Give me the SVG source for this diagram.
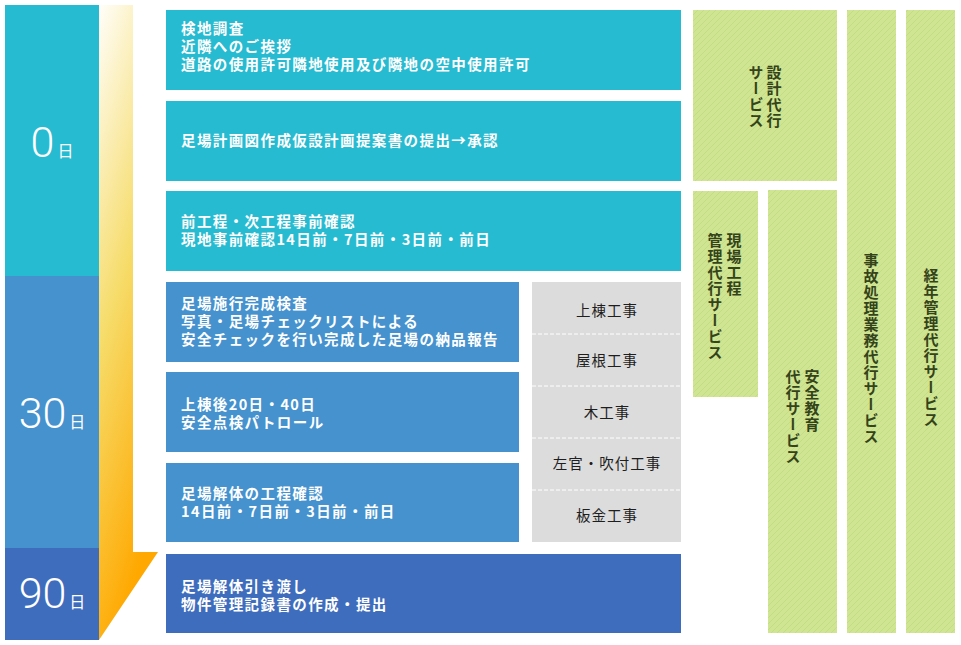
<svg xmlns="http://www.w3.org/2000/svg" width="961" height="645" viewBox="0 0 961 645">
<style>
.t{font-family:"Noto Sans CJK JP","Noto Sans",sans-serif;font-size:14.5px;fill:#fff;font-weight:bold;letter-spacing:1.4px}
.g{font-family:"Noto Sans CJK JP","Noto Sans",sans-serif;font-size:14.5px;fill:#1e1e1e;text-anchor:middle;letter-spacing:1px}
.v{font-family:"Noto Sans CJK JP",sans-serif;font-size:15px;fill:#34431a;font-weight:bold;writing-mode:vertical-rl;letter-spacing:1px}
.num{font-family:Roboto,"Liberation Sans",sans-serif;font-weight:300;font-size:43px;fill:#fff}
.d{font-family:"Noto Sans CJK JP",sans-serif;font-size:16px;fill:#fff}
.cy{fill:#27bbd1}.bl{fill:#4592ce}.db{fill:#3f6dbd}
.gr{fill:url(#stripe)}
.dash{stroke:#fff;stroke-width:1;stroke-dasharray:4 2}
</style>
<defs>
<linearGradient id="arr" x1="0" y1="0" x2="0.3" y2="1">
<stop offset="0" stop-color="#fffefa"/>
<stop offset="0.5" stop-color="#f6dc6a"/>
<stop offset="1" stop-color="#ffa800"/>
</linearGradient>
<pattern id="stripe" patternUnits="userSpaceOnUse" width="6" height="6">
<rect width="6" height="6" fill="#cfe591"/>
<path d="M-1,7 L7,-1 M-1,1 L1,-1 M5,7 L7,5" stroke="#c2d981" stroke-width="0.8"/>
</pattern>
</defs>
<rect width="961" height="645" fill="#fff"/>

<g id="timeline">
<rect x="5" y="5" width="94" height="271" class="cy"/>
<rect x="5" y="276" width="94" height="272" class="bl"/>
<rect x="5" y="548" width="94" height="92" class="db"/>
<text x="52" y="157" text-anchor="middle"><tspan class="num">0</tspan><tspan class="d" dx="3">日</tspan></text>
<text x="52" y="428" text-anchor="middle"><tspan class="num">30</tspan><tspan class="d" dx="3">日</tspan></text>
<text x="52" y="608" text-anchor="middle"><tspan class="num">90</tspan><tspan class="d" dx="3">日</tspan></text>
</g>

<g id="connectors">
<polygon points="99,5 133,5 133,552 158,552 99,640" fill="url(#arr)"/>
</g>

<g id="step1"><rect x="166" y="10" width="515" height="80" class="cy"/>
<text class="t" x="181" y="34">検地調査</text>
<text class="t" x="181" y="52">近隣へのご挨拶</text>
<text class="t" x="181" y="70">道路の使用許可隣地使用及び隣地の空中使用許可</text></g>

<g id="step2"><rect x="166" y="101" width="515" height="80" class="cy"/>
<text class="t" x="181" y="146">足場計画図作成仮設計画提案書の提出→承認</text></g>

<g id="step3"><rect x="166" y="191" width="515" height="80" class="cy"/>
<text class="t" x="181" y="227">前工程・次工程事前確認</text>
<text class="t" x="181" y="245">現地事前確認14日前・7日前・3日前・前日</text></g>

<g id="step4"><rect x="166" y="282" width="353" height="80" class="bl"/>
<text class="t" x="181" y="309">足場施行完成検査</text>
<text class="t" x="181" y="327">写真・足場チェックリストによる</text>
<text class="t" x="181" y="345">安全チェックを行い完成した足場の納品報告</text></g>

<g id="step5"><rect x="166" y="372" width="353" height="80" class="bl"/>
<text class="t" x="181" y="410">上棟後20日・40日</text>
<text class="t" x="181" y="428">安全点検パトロール</text></g>

<g id="step6"><rect x="166" y="463" width="353" height="79" class="bl"/>
<text class="t" x="181" y="499">足場解体の工程確認</text>
<text class="t" x="181" y="517">14日前・7日前・3日前・前日</text></g>

<g id="step7"><rect x="166" y="554" width="515" height="79" class="db"/>
<text class="t" x="181" y="592">足場解体引き渡し</text>
<text class="t" x="181" y="610">物件管理記録書の作成・提出</text></g>

<g id="works">
<rect x="532" y="282" width="149" height="260" fill="#dcdcdc"/>
<line x1="532" y1="334" x2="681" y2="334" class="dash"/>
<line x1="532" y1="386" x2="681" y2="386" class="dash"/>
<line x1="532" y1="438" x2="681" y2="438" class="dash"/>
<line x1="532" y1="490" x2="681" y2="490" class="dash"/>
<text class="g" x="607" y="316">上棟工事</text>
<text class="g" x="607" y="366">屋根工事</text>
<text class="g" x="607" y="418">木工事</text>
<text class="g" x="607" y="469">左官・吹付工事</text>
<text class="g" x="607" y="521">板金工事</text>
</g>

<g id="svc-design"><rect x="693" y="10" width="144" height="171" class="gr"/>
<text class="v" x="774" y="65">設計代行</text>
<text class="v" x="756" y="65">サービス</text></g>

<g id="svc-site"><rect x="693" y="191" width="65" height="206" class="gr"/>
<text class="v" x="734" y="233">現場工程</text>
<text class="v" x="715" y="233">管理代行サービス</text></g>

<g id="svc-safety"><rect x="768" y="190" width="69" height="443" class="gr"/>
<text class="v" x="812" y="369">安全教育</text>
<text class="v" x="793" y="369">代行サービス</text></g>

<g id="svc-accident"><rect x="847" y="10" width="49" height="623" class="gr"/>
<text class="v" x="871" y="253">事故処理業務代行サービス</text></g>

<g id="svc-aging"><rect x="906" y="10" width="49" height="623" class="gr"/>
<text class="v" x="931" y="268">経年管理代行サービス</text></g>
</svg>
